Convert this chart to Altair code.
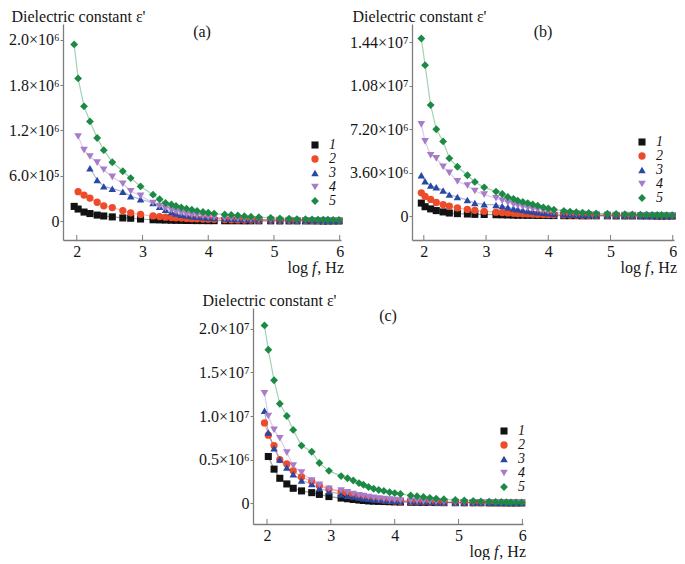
import json
import altair as alt
import pandas as pd

SERIF = "Liberation Serif"
AXIS_COLOR = "#7d7d7d"
TEXT_COLOR = "#151515"

# log f grid (Hz)
LOGF = [1.96, 2.02, 2.11, 2.20, 2.31, 2.41, 2.54, 2.70, 2.82, 2.97,
        3.16, 3.26, 3.35, 3.44, 3.51, 3.59, 3.67, 3.75, 3.83, 3.92,
        4.00, 4.09, 4.25, 4.35, 4.45, 4.55, 4.65, 4.77, 4.95, 5.09,
        5.23, 5.35, 5.48, 5.58, 5.67, 5.75, 5.82, 5.90, 5.99]

SERIES = ["1", "2", "3", "4", "5"]
COLORS = ["#121212", "#ee4b2b", "#2748a3", "#a77cc9", "#1c8a44"]
SHAPES = ["square", "circle", "triangle-up", "triangle-down", "diamond"]
SIZES = [50, 62, 70, 70, 100]

# panel (a): values in units of 1e5 (axis positions)
A1 = [1.95, 1.6, 1.2, 1.0, 0.8, 0.68, 0.56, 0.42, 0.38, 0.28, 0.18, 0.16, 0.14, 0.12, 0.11, 0.1, 0.09, 0.08, 0.07, 0.07,
      0.06, 0.06, 0.05, 0.05, 0.05, 0.04, 0.04, 0.04, 0.04, 0.03, 0.03, 0.03, 0.03, 0.03, 0.03, 0.02, 0.02, 0.02, 0.02]
A2 = [None, 3.9, 3.45, 3.05, 2.5, 2.02, 1.8, 1.4, 1.1, 0.88, 0.68, 0.6, 0.52, 0.48, 0.44, 0.4, 0.36, 0.33, 0.3, 0.28,
      0.26, 0.24, 0.2, 0.18, 0.16, 0.15, 0.14, 0.13, 0.12, 0.11, 0.1, 0.1, 0.09, 0.09, 0.08, 0.08, 0.08, 0.07, 0.07]
A3 = [None, None, None, 7.0, 5.45, 4.6, 4.3, 3.9, 3.3, 2.9, 2.4, 1.9, 1.5, 1.2, 1.0, 0.85, 0.75, 0.65, 0.58, 0.5,
      0.45, 0.4, 0.35, 0.3, 0.28, 0.25, 0.22, 0.2, 0.18, 0.16, 0.14, 0.13, 0.12, 0.11, 0.1, 0.1, 0.09, 0.09, 0.08]
A4 = [None, 11.2, 9.4, 8.55, 7.75, 6.8, 5.85, 4.95, 3.95, 3.35, 2.4, 2.0, 1.7, 1.45, 1.25, 1.05, 0.9, 0.8, 0.7, 0.62,
      0.55, 0.48, 0.4, 0.35, 0.3, 0.26, 0.23, 0.2, 0.17, 0.15, 0.13, 0.12, 0.11, 0.1, 0.1, 0.09, 0.09, 0.08, 0.08]
A5 = [23.4, 18.9, 15.2, 13.2, 11.0, 9.4, 7.8, 6.6, 5.7, 4.6, 3.5, 2.9, 2.4, 2.2, 2.0, 1.8, 1.65, 1.5, 1.35, 1.2,
      1.1, 1.0, 0.87, 0.82, 0.74, 0.66, 0.58, 0.52, 0.43, 0.36, 0.31, 0.27, 0.24, 0.22, 0.20, 0.19, 0.18, 0.17, 0.16]

# panel (b): values in units of 1e6
B1 = [1.1, 0.8, 0.62, 0.48, 0.37, 0.28, 0.23, 0.2, 0.17, 0.16, 0.14, 0.13, 0.12, 0.11, 0.1, 0.1, 0.09, 0.09, 0.08, 0.08,
      0.07, 0.07, 0.06, 0.06, 0.06, 0.05, 0.05, 0.05, 0.05, 0.04, 0.04, 0.04, 0.04, 0.04, 0.04, 0.03, 0.03, 0.03, 0.03]
B2 = [1.95, 1.65, 1.4, 1.15, 0.98, 0.85, 0.7, 0.58, 0.5, 0.42, 0.35, 0.32, 0.29, 0.26, 0.24, 0.22, 0.2, 0.18, 0.16, 0.15,
      0.14, 0.13, 0.12, 0.11, 0.1, 0.09, 0.09, 0.08, 0.08, 0.07, 0.07, 0.06, 0.06, 0.06, 0.05, 0.05, 0.05, 0.05, 0.05]
B3 = [3.4, 2.9, 2.55, 2.4, 2.15, 1.8, 1.6, 1.35, 1.1, 1.0, 0.95, 0.85, 0.75, 0.65, 0.6, 0.52, 0.45, 0.4, 0.35, 0.3,
      0.26, 0.22, 0.18, 0.16, 0.14, 0.12, 0.11, 0.1, 0.09, 0.08, 0.07, 0.07, 0.06, 0.06, 0.05, 0.05, 0.05, 0.05, 0.05]
B4 = [7.6, 6.2, 5.05, 4.8, 4.1, 3.6, 2.9, 2.55, 2.1, 1.8, 1.5, 1.3, 1.15, 1.0, 0.9, 0.8, 0.7, 0.62, 0.55, 0.48,
      0.42, 0.36, 0.3, 0.26, 0.23, 0.2, 0.18, 0.16, 0.14, 0.12, 0.11, 0.1, 0.09, 0.08, 0.08, 0.07, 0.07, 0.06, 0.06]
B5 = [14.7, 12.5, 9.2, 7.2, 6.2, 4.8, 4.1, 3.4, 2.85, 2.4, 2.05, 1.85, 1.6, 1.45, 1.3, 1.2, 1.1, 0.98, 0.88, 0.75,
      0.65, 0.55, 0.45, 0.4, 0.35, 0.3, 0.28, 0.25, 0.22, 0.2, 0.18, 0.16, 0.15, 0.14, 0.13, 0.12, 0.12, 0.11, 0.11]

# panel (c): values in units of 1e6
C1 = [None, 5.35, 3.9, 2.85, 2.2, 1.7, 1.4, 1.2, 1.0, 0.75, 0.58, 0.5, 0.42, 0.35, 0.3, 0.25, 0.22, 0.2, 0.18, 0.16,
      0.14, 0.12, 0.1, 0.09, 0.08, 0.07, 0.06, 0.05, 0.05, 0.04, 0.04, 0.04, 0.03, 0.03, 0.03, 0.03, 0.02, 0.02, 0.02]
C2 = [9.2, 7.8, 6.6, 5.0, 4.5, 3.7, 3.0, 2.5, 2.0, 1.6, 1.3, 1.1, 0.95, 0.8, 0.7, 0.6, 0.5, 0.42, 0.36, 0.3,
      0.25, 0.22, 0.18, 0.15, 0.13, 0.11, 0.1, 0.08, 0.07, 0.06, 0.05, 0.05, 0.04, 0.04, 0.04, 0.03, 0.03, 0.03, 0.03]
C3 = [10.6, 8.1, 6.3, 5.0, 4.1, 3.3, 2.6, 2.2, 1.7, 1.35, 1.0, 0.85, 0.75, 0.65, 0.55, 0.5, 0.45, 0.4, 0.35, 0.3,
      0.28, 0.25, 0.2, 0.18, 0.16, 0.14, 0.12, 0.1, 0.09, 0.08, 0.07, 0.06, 0.05, 0.05, 0.05, 0.04, 0.04, 0.04, 0.04]
C4 = [12.6, 10.0, 8.4, 7.45, 5.8, 4.3, 3.5, 2.6, 2.1, 1.65, 1.45, 1.25, 1.05, 0.9, 0.8, 0.7, 0.6, 0.52, 0.45, 0.4,
      0.35, 0.3, 0.25, 0.22, 0.2, 0.18, 0.16, 0.14, 0.12, 0.1, 0.09, 0.08, 0.07, 0.06, 0.06, 0.05, 0.05, 0.05, 0.05]
C5 = [20.4, 17.6, 14.1, 11.4, 10.0, 8.4, 6.6, 5.9, 4.6, 3.7, 3.1, 2.85, 2.6, 2.3, 2.1, 1.85, 1.65, 1.5, 1.4, 1.25,
      1.15, 1.05, 0.87, 0.8, 0.7, 0.6, 0.52, 0.45, 0.35, 0.3, 0.25, 0.2, 0.17, 0.14, 0.12, 0.1, 0.09, 0.08, 0.08]

X_TICKS = [2, 3, 4, 5, 6]
A_TICKS = [0, 6, 12, 18, 24]
A_TICK_LABELS = ["0", "6.0×10⁵", "1.2×10⁶", "1.8×10⁶", "2.0×10⁶"]
B_TICKS = [0, 3.6, 7.2, 10.8, 14.4]
B_TICK_LABELS = ["0", "3.60×10⁶", "7.20×10⁶", "1.08×10⁷", "1.44×10⁷"]
C_TICKS = [0, 5, 10, 15, 20]
C_TICK_LABELS = ["0", "0.5×10⁶", "1.0×10⁷", "1.5×10⁷", "2.0×10⁷"]

Y_TITLE = "Dielectric constant ε'"

IND = dict(color="independent", shape="independent", size="independent",
           stroke="independent")


def make_panel(series_vals, y_ticks, y_labels, y_dom, x_dom, w, h, letter,
               leg_x, leg_y, title_x):
    rows = []
    for s, vals in zip(SERIES, series_vals):
        for x, v in zip(LOGF, vals):
            if v is not None:
                rows.append({"logf": x, "eps": v, "series": s, "curve": "c" + s})
    df = pd.DataFrame(rows)
    step = y_ticks[1]
    label_expr = json.dumps(y_labels, ensure_ascii=False) + f"[round(datum.value / {step})]"

    xenc = alt.X("logf:Q", scale=alt.Scale(domain=x_dom, nice=False, zero=False),
                 axis=alt.Axis(values=X_TICKS, ticks=False, labelPadding=3, title=None,
                               grid=False, labelFlush=False, labelFont=SERIF,
                               labelFontSize=16, labelColor=TEXT_COLOR))
    yenc = alt.Y("eps:Q", scale=alt.Scale(domain=y_dom, nice=False, zero=False),
                 axis=alt.Axis(values=y_ticks, labelExpr=label_expr, tickSize=3,
                               labelPadding=1, grid=False, labelFont=SERIF,
                               labelFontSize=16, labelColor=TEXT_COLOR,
                               title=Y_TITLE, titleAngle=0,
                               titleAlign="left", titleBaseline="alphabetic",
                               titleX=title_x, titleY=-3))
    legend = alt.Legend(orient="none", legendX=leg_x, legendY=leg_y, title=None,
                        labelFont=SERIF, labelFontStyle="italic", labelFontSize=14,
                        labelColor=TEXT_COLOR, rowPadding=0, labelOffset=7,
                        symbolStrokeWidth=0, padding=0)

    lines = alt.Chart(df).mark_line(strokeWidth=1.2, opacity=0.4).encode(
        x=xenc, y=yenc,
        stroke=alt.Stroke("curve:N",
                          scale=alt.Scale(domain=["c" + s for s in SERIES], range=COLORS),
                          legend=None),
        order=alt.Order("logf:Q"),
    )
    points = alt.Chart(df).mark_point(filled=True, opacity=1).encode(
        x=xenc, y=yenc,
        color=alt.Color("series:N", scale=alt.Scale(domain=SERIES, range=COLORS), legend=legend),
        shape=alt.Shape("series:N", scale=alt.Scale(domain=SERIES, range=SHAPES), legend=legend),
        size=alt.Size("series:N", scale=alt.Scale(domain=SERIES, range=SIZES), legend=legend),
    )
    xticks = alt.Chart(pd.DataFrame({"logf": X_TICKS})).mark_rule(
        color=AXIS_COLOR, strokeWidth=1).encode(
        x=xenc, y=alt.value(h), y2=alt.value(h - 5))

    letter_txt = alt.Chart(pd.DataFrame({"t": [letter]})).mark_text(
        font=SERIF, fontSize=16, color=TEXT_COLOR, align="center", baseline="middle").encode(
        x=alt.value(w / 2), y=alt.value(8), text="t:N")

    R = w + 3
    ty = h + 33
    xt_hz = alt.Chart(pd.DataFrame({"t": [", Hz"]})).mark_text(
        font=SERIF, fontSize=16, color=TEXT_COLOR, align="right", baseline="alphabetic").encode(
        x=alt.value(R), y=alt.value(ty), text="t:N")
    xt_f = alt.Chart(pd.DataFrame({"t": ["f"]})).mark_text(
        font=SERIF, fontSize=16, fontStyle="italic", color=TEXT_COLOR, align="right",
        baseline="alphabetic").encode(x=alt.value(R - 27.5), y=alt.value(ty), text="t:N")
    xt_log = alt.Chart(pd.DataFrame({"t": ["log"]})).mark_text(
        font=SERIF, fontSize=16, color=TEXT_COLOR, align="right", baseline="alphabetic").encode(
        x=alt.value(R - 36), y=alt.value(ty), text="t:N")

    return alt.layer(lines, xticks, points, letter_txt, xt_hz, xt_f, xt_log).properties(
        width=w, height=h)


H = 216
pa = make_panel([A1, A2, A3, A4, A5], A_TICKS, A_TICK_LABELS, [-2.5, 26.1], [1.79, 6.02],
                278, H, "(a)", 245, 114, -52)
pb = make_panel([B1, B2, B3, B4, B5], B_TICKS, B_TICK_LABELS, [-1.95, 15.9], [1.81, 6.02],
                262, H, "(b)", 223, 111, -60)
pc = make_panel([C1, C2, C3, C4, C5], C_TICKS, C_TICK_LABELS, [-2.4, 22.4], [1.78, 6.01],
                270, H, "(c)", 244, 116, -51)

spacer = alt.Chart(pd.DataFrame({"v": [0]})).mark_point(opacity=0, size=1).encode(
    x=alt.value(2), y=alt.value(0)).properties(width=134, height=1)

row1 = alt.hconcat(pa, pb, spacing=5).resolve_scale(**IND).resolve_legend(
    color="independent", shape="independent", size="independent")
row2 = alt.hconcat(spacer, pc, spacing=1).resolve_scale(**IND).resolve_legend(
    color="independent", shape="independent", size="independent")

chart = alt.vconcat(row1, row2, spacing=16).resolve_scale(**IND).resolve_legend(
    color="independent", shape="independent", size="independent"
).properties(padding=0).configure_view(
    stroke=None
).configure_axis(
    domainColor=AXIS_COLOR, domainWidth=1.3, tickColor=AXIS_COLOR, tickWidth=1,
    labelFont=SERIF, labelFontSize=16, labelColor=TEXT_COLOR,
    titleFont=SERIF, titleFontSize=16, titleFontWeight="normal", titleColor=TEXT_COLOR,
)

chart.save("out.html", embed_options={"renderer": "svg", "actions": False})
